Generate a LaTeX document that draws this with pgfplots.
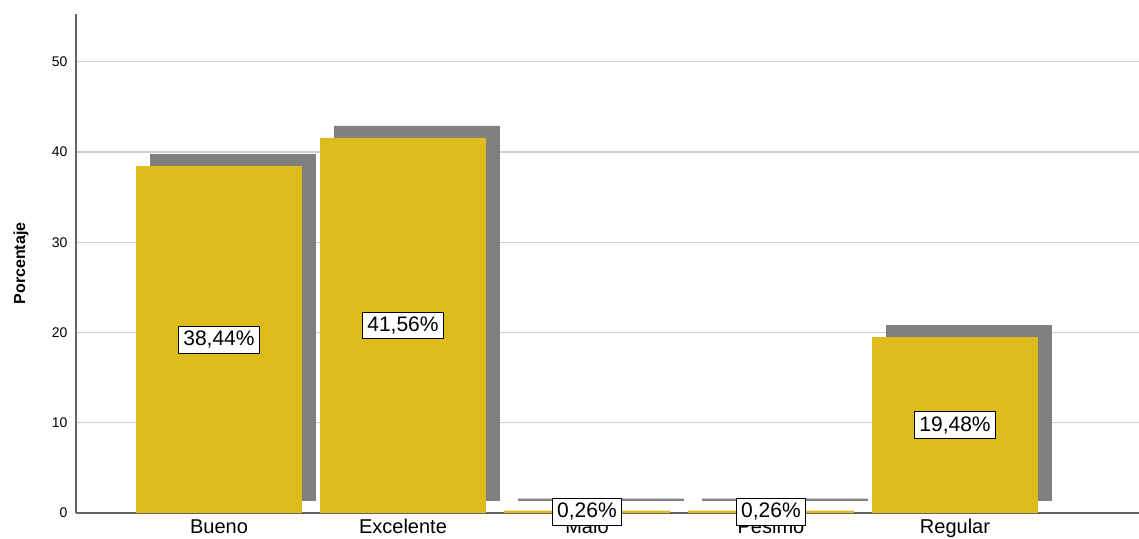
\documentclass[border=0pt]{standalone}
\usepackage{pgfplots}
\pgfplotsset{compat=1.18}
\usepackage{fontspec}
\setmainfont{Liberation Sans}
\definecolor{gold}{RGB}{223,188,30}
\definecolor{shadowc}{RGB}{128,128,128}
\definecolor{gridc}{RGB}{205,205,205}
\definecolor{axc}{RGB}{100,100,100}
\begin{document}
\begin{tikzpicture}
\pgfplotsset{
  common/.style={
    scale only axis, width=531.5pt, height=249.5pt,
    xmin=-0.777, xmax=5.0, ymin=0, ymax=55.3,
  }
}
% background axis: grid, ticks, shadows
\begin{axis}[common,
  ybar stacked,
  axis lines*=left,
  axis line style={axc, line width=0.6pt},
  major tick length=0pt,
  ytick={0,10,20,30,40,50},
  ymajorgrids,
  grid style={gridc, line width=0.6pt},
  xtick={0,1,2,3,4},
  xticklabels={Bueno,Excelente,Malo,Pesimo,Regular},
  /pgf/number format/assume math mode=true,
  yticklabel style={font=\fontsize{7}{8}\selectfont, xshift=-0.8pt},
  xticklabel style={font=\fontsize{10}{12}\selectfont, yshift=0.3pt},
  ylabel={Porcentaje},
  ylabel style={at={(axis description cs:-0.0517,0.5)}, anchor=center, font=\fontsize{8}{9}\selectfont\bfseries},
  bar width=0.9, bar shift=0.076,
]
\addplot[draw=none, fill=none] coordinates {(0,1.33) (1,1.33) (2,1.33) (3,1.33) (4,1.33)};
\addplot[draw=none, fill=shadowc] coordinates {(0,38.44) (1,41.56) (2,0.26) (3,0.26) (4,19.48)};
\end{axis}
% foreground axis: gold bars and labels
\begin{axis}[common, hide axis]
\addplot[ybar, bar width=0.9, bar shift=0, draw=none, fill=gold]
  coordinates {(0,38.44) (1,41.56) (2,0.26) (3,0.26) (4,19.48)};
\addplot[draw=none, mark=none, nodes near coords, point meta=explicit symbolic,
  every node near coord/.style={anchor=center, fill=white, draw=black, text=black, line width=0.5pt, inner sep=2.4pt, font=\fontsize{10.5}{12}\selectfont}]
  coordinates {(0,19.22) [38,44\%] (1,20.78) [41,56\%] (2,0.13) [0,26\%] (3,0.13) [0,26\%] (4,9.74) [19,48\%]};
\end{axis}
\pgfresetboundingbox
\path (-38pt,-13pt) rectangle (531.5pt,256.5pt);
\end{tikzpicture}
\end{document}
